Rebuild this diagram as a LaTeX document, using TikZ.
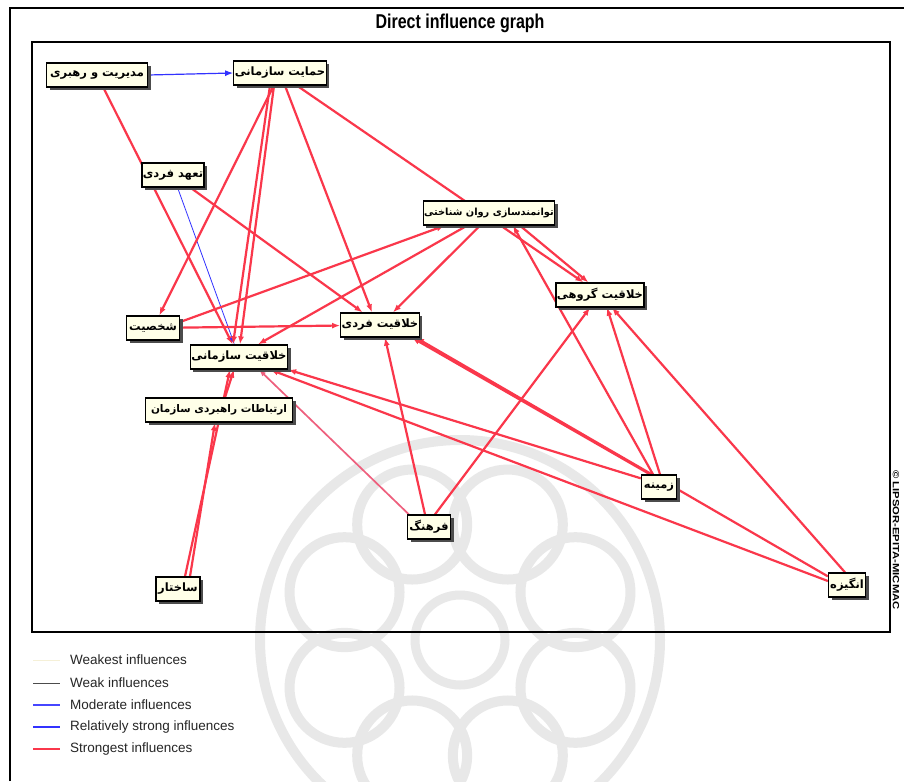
\documentclass[tikz,border=0pt]{standalone}
\usepackage{fontspec}
\setmainfont{Liberation Sans}
\newfontfamily\arabicfont[Script=Arabic]{DejaVu Sans}
\TeXXeTstate=1
\usetikzlibrary{arrows.meta,shadows,calc}
\pgfdeclarelayer{bg}
\pgfdeclarelayer{edges}
\pgfsetlayers{bg,edges,main}
\definecolor{infred}{RGB}{250,55,75}
\definecolor{infpink}{RGB}{238,95,125}
\definecolor{infblue}{RGB}{50,50,255}
\definecolor{boxfill}{RGB}{255,255,232}
\definecolor{wmgray}{RGB}{232,232,232}
\tikzset{
  var/.style={draw=black, line width=1.3pt, fill=boxfill, inner sep=1pt,
    minimum height=24pt, font=\arabicfont\bfseries\fontsize{11.5}{13}\selectfont,
    drop shadow={shadow xshift=3pt, shadow yshift=-3pt, fill=black!70, opacity=1}},
  strong/.style={draw=infred, line width=2.2pt, -{Latex[length=8pt,width=6pt]}},
  pinkedge/.style={draw=infpink, line width=1.7pt, -{Latex[length=7pt,width=5pt]}},
  modedge/.style={draw=infblue, line width=0.8pt, -{Latex[length=7pt,width=5pt]}},
  moddedge/.style={draw=infblue, line width=1.2pt, -{Latex[length=8pt,width=6pt]}},
  legtext/.style={anchor=west, font=\fontsize{13.5}{15}\selectfont, text=black!85, inner sep=0pt},
  frame/.style={draw=black, line width=1.3pt}
}
\begin{document}
\begin{tikzpicture}[x=1pt,y=-1pt]
\useasboundingbox (0,0) rectangle (904,781);
% watermark
\begin{pgfonlayer}{bg}
\fill[white] (0,0) rectangle (904,781);
\begin{scope}
\clip (0,0) rectangle (904,781);
\foreach \a in {22.5,67.5,...,337.5}{
  \draw[wmgray, line width=10pt] ($(460,640)+(\a:125)$) circle[radius=55];
}
\draw[wmgray, line width=10pt] (460,640) circle[radius=200];
\draw[wmgray, line width=9pt] (460,640) circle[radius=45];
\end{scope}
\end{pgfonlayer}
% frames
\draw[frame] (10,781) -- (10,8) -- (904,8);
\draw[frame] (32,42) rectangle (890,632);
\node (title) at (460,23) {\scalebox{0.8}[1]{\fontsize{20}{24}\selectfont\bfseries Direct influence graph}};
\node[rotate=-90, inner sep=0pt] (copy) at (896,540) {\scalebox{1.25}[1]{\fontsize{9}{10}\selectfont\bfseries © LIPSOR-EPITA-MICMAC}};
% nodes
\node[var, minimum width=101pt] (mgmt) at (97,75) {\beginR مدیریت و رهبری\endR};
\node[var, minimum width=92pt] (hemayat) at (280,73) {\beginR حمایت سازمانی\endR};
\node[var, minimum width=60pt] (taahod) at (173,175) {\beginR تعهد فردی\endR};
\node[var, minimum width=128pt, font=\arabicfont\bfseries\fontsize{9.8}{11}\selectfont] (tavanmand) at (489,213) {\beginR توانمندسازی روان شناختی\endR};
\node[var, minimum width=85pt] (khgroup) at (600,295) {\beginR خلاقیت گروهی\endR};
\node[var, minimum width=53pt] (shakhsiat) at (153,328) {\beginR شخصیت\endR};
\node[var, minimum width=76pt] (khfardi) at (380,325) {\beginR خلاقیت فردی\endR};
\node[var, minimum width=91pt] (khsazman) at (239,357) {\beginR خلاقیت سازمانی\endR};
\node[var, minimum width=147pt, font=\arabicfont\bfseries\fontsize{10.5}{12}\selectfont] (ertebat) at (219,410) {\beginR ارتباطات راهبردی سازمان\endR};
\node[var, minimum width=35pt] (zamine) at (659,487) {\beginR زمینه\endR};
\node[var, minimum width=43pt] (farhang) at (429,527) {\beginR فرهنگ\endR};
\node[var, minimum width=44pt] (sakhtar) at (178,589) {\beginR ساختار\endR};
\node[var, minimum width=37pt] (angize) at (847,585) {\beginR انگیزه\endR};
% edges
\begin{pgfonlayer}{edges}
\draw[moddedge] (mgmt.east) -- (hemayat.west);
\draw[strong] (mgmt) -- (khsazman);
\draw[modedge] (taahod) -- (khsazman);
\draw[strong] (taahod) -- (khfardi);
\draw[strong] (hemayat) -- (shakhsiat);
\draw[strong] ($(hemayat.south)+(-10,0)$) -- ($(khsazman.north)+(-6,0)$);
\draw[strong] ($(hemayat.south)+(-6,0)$) -- ($(khsazman.north)+(1,0)$);
\draw[strong] ($(hemayat.south)+(5,0)$) -- ($(khfardi.north)+(-8,0)$);
\draw[strong] ($(hemayat.south)+(17,0)$) -- ($(khgroup.north west)+(28,0)$);
\draw[strong] ($(shakhsiat.east)+(0,-6)$) -- ($(tavanmand.south west)+(22,0)$);
\draw[strong] (shakhsiat) -- (khfardi);
\draw[strong] ($(tavanmand.south)+(-22,0)$) -- ($(khsazman.north)+(19,0)$);
\draw[strong] ($(tavanmand.south)+(-9,0)$) -- ($(khfardi.north)+(13,0)$);
\draw[strong] ($(tavanmand.south)+(31,0)$) -- ($(khgroup.north west)+(33,0)$);
\draw[strong] ($(zamine.north)+(-6,0)$) -- ($(tavanmand.south)+(24,0)$);
\draw[strong] ($(zamine.north)+(-9,0)$) -- ($(khfardi.south east)+(-8,0)$);
\draw[strong] ($(angize.north west)+(0,4)$) -- ($(khfardi.south east)+(-4,0)$);
\draw[strong] ($(zamine.north west)+(0,4)$) -- (khsazman.south east);
\draw[strong] ($(angize.west)+(0,-4)$) -- ($(khsazman.south east)+(-18,0)$);
\draw[strong] ($(zamine.north)+(1,0)$) -- ($(khgroup.south)+(7,0)$);
\draw[strong] ($(angize.north)+(-2,0)$) -- ($(khgroup.south)+(12,0)$);
\draw[pinkedge] ($(farhang.north west)+(2,0)$) -- ($(khsazman.south)+(20,0)$);
\draw[strong] ($(farhang.north)+(-4,0)$) -- ($(khfardi.south)+(5,0)$);
\draw[strong] ($(farhang.north)+(6,0)$) -- ($(khgroup.south)+(-10,0)$);
\draw[strong] ($(sakhtar.north)+(7,0)$) -- ($(khsazman.south)+(-9,0)$);
\draw[strong] ($(sakhtar.north)+(12,0)$) -- ($(ertebat.south)+(-4,0)$);
\draw[strong] ($(ertebat.north)+(6,0)$) -- ($(khsazman.south)+(-5,0)$);
\end{pgfonlayer}
% legend
\coordinate (l1) at (33,660); \coordinate (l1e) at (60,660);
\coordinate (l2) at (33,683); \coordinate (l2e) at (60,683);
\coordinate (l3) at (33,705); \coordinate (l3e) at (60,705);
\coordinate (l4) at (33,727); \coordinate (l4e) at (60,727);
\coordinate (l5) at (33,749); \coordinate (l5e) at (60,749);
\draw[draw={rgb,255:red,245;green,240;blue,215}, line width=1pt] (l1) -- (l1e);
\draw[draw=black!70, line width=0.8pt] (l2) -- (l2e);
\draw[draw={rgb,255:red,70;green,70;blue,255}, line width=1.1pt] (l3) -- (l3e);
\draw[draw=infblue, line width=2.4pt] (l4) -- (l4e);
\draw[draw=infred, line width=2.4pt] (l5) -- (l5e);
\node[legtext] (t1) at (70,660) {Weakest influences};
\node[legtext] (t2) at (70,683) {Weak influences};
\node[legtext] (t3) at (70,705) {Moderate influences};
\node[legtext] (t4) at (70,727) {Relatively strong influences};
\node[legtext] (t5) at (70,749) {Strongest influences};
\end{tikzpicture}
\end{document}
